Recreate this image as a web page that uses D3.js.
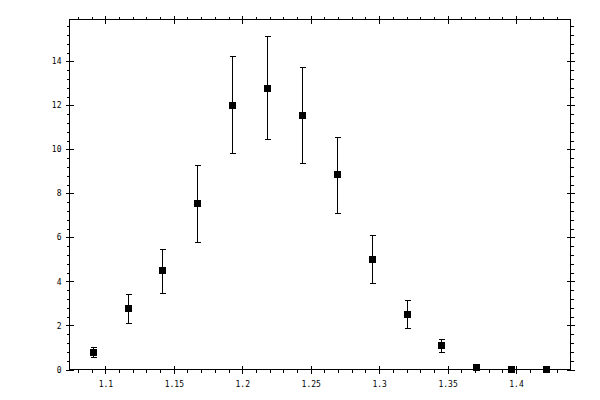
<!DOCTYPE html>
<html>
<head>
<meta charset="utf-8">
<script src="https://cdn.jsdelivr.net/npm/d3@7"></script>
<style>
  body { margin: 0; background: #fff; }
  svg text { font-family: "DejaVu Sans Mono", monospace; font-size: 8px; fill: #000; }
</style>
</head>
<body>
<div id="chart"></div>
<script>
// bin centres and measured values
const binX = [1.0908, 1.1163, 1.1417, 1.1672, 1.1927, 1.2181, 1.2436,
              1.2691, 1.2946, 1.3200, 1.3455, 1.3710, 1.3964, 1.4219];
const valY = [0.78, 2.78, 4.51, 7.55, 12.01, 12.78, 11.55,
              8.87, 5.01, 2.51, 1.10, 0.13, 0.01, 0.01];
const errLo = [0.55, 2.10, 3.46, 5.78, 9.83, 10.48, 9.37,
               7.10, 3.92, 1.87, 0.78, 0.13, 0.01, 0.01];
const errHi = [1.01, 3.42, 5.49, 9.31, 14.24, 15.15, 13.72,
               10.58, 6.10, 3.14, 1.37, 0.13, 0.01, 0.01];

const xMajor = [1.1, 1.15, 1.2, 1.25, 1.3, 1.35, 1.4];
const xMinor = [1.08, 1.09, 1.11, 1.12, 1.13, 1.14, 1.16, 1.17, 1.18, 1.19,
                1.21, 1.22, 1.23, 1.24, 1.26, 1.27, 1.28, 1.29, 1.31, 1.32,
                1.33, 1.34, 1.36, 1.37, 1.38, 1.39, 1.41, 1.42, 1.43];
const yMajor = [0, 2, 4, 6, 8, 10, 12, 14];
const yMinor = [0.4, 0.8, 1.2, 1.6, 2.4, 2.8, 3.2, 3.6, 4.4, 4.8, 5.2, 5.6,
                6.4, 6.8, 7.2, 7.6, 8.4, 8.8, 9.2, 9.6, 10.4, 10.8, 11.2, 11.6,
                12.4, 12.8, 13.2, 13.6, 14.4, 14.8, 15.2, 15.6];

const width = 600;
const height = 400;
const margin = { top: 19.5, right: 29.5, bottom: 30.5, left: 69.5 };

const svg = d3.select("#chart")
  .append("svg")
  .attr("width", width)
  .attr("height", height)
  .attr("shape-rendering", "crispEdges");

const x = d3.scaleLinear()
  .domain([1.0738, 1.4398])
  .range([margin.left, width - margin.right]);

const y = d3.scaleLinear()
  .domain([0, 15.9])
  .range([height - margin.bottom, margin.top]);

const fmt = d3.format("~g");

// draw one side: major ticks cross the frame line, minor ticks stick out
function side(axisFn, scale, major, minor, transform, labels, sign) {
  const gMin = svg.append("g").attr("transform", transform)
    .call(axisFn(scale).tickValues(minor).tickSize(3).tickFormat(""));
  gMin.select(".domain").remove();

  const g = svg.append("g").attr("transform", transform)
    .call(axisFn(scale).tickValues(major).tickSize(4)
      .tickFormat(labels ? fmt : ""));
  g.select(".domain").remove();
  return g;
}

const H = height - margin.bottom;
const W = width - margin.right;

const gb = side(d3.axisBottom, x, xMajor, xMinor, `translate(0,${H})`, true);
gb.selectAll(".tick line").attr("y1", -4);
gb.selectAll(".tick text").attr("y", 12);

const gt = side(d3.axisTop, x, xMajor, xMinor, `translate(0,${margin.top})`, false);
gt.selectAll(".tick line").attr("y1", 4);

const gl = side(d3.axisLeft, y, yMajor, yMinor, `translate(${margin.left},0)`, true);
gl.selectAll(".tick line").attr("x1", 4);
gl.selectAll(".tick text").attr("x", -8);

const gr = side(d3.axisRight, y, yMajor, yMinor, `translate(${W},0)`, false);
gr.selectAll(".tick line").attr("x1", -4);

svg.selectAll(".tick line").attr("stroke", "#000");

// frame
svg.append("rect")
  .attr("x", margin.left)
  .attr("y", margin.top)
  .attr("width", W - margin.left)
  .attr("height", H - margin.top)
  .attr("fill", "none")
  .attr("stroke", "#000");

// error bars
const pts = binX.map((v, i) => ({ x: v, y: valY[i], lo: errLo[i], hi: errHi[i] }));
const eb = svg.append("g").attr("stroke", "#000").attr("stroke-width", 1);

eb.selectAll(".stem")
  .data(pts.filter((d) => d.hi - d.lo > 0.1))
  .join("path")
  .attr("fill", "none")
  .attr("d", (d) => {
    const cx = Math.round(x(d.x)) + 0.5;
    const t = Math.round(y(d.hi)) + 0.5;
    const b = Math.round(y(d.lo)) + 0.5;
    return `M${cx},${t}V${b}M${cx - 2.5},${t}H${cx + 3}M${cx - 2.5},${b}H${cx + 3}`;
  });

// markers
svg.append("g")
  .selectAll("rect")
  .data(pts)
  .join("rect")
  .attr("x", (d) => Math.round(x(d.x)) - 3)
  .attr("y", (d) => Math.round(y(d.y)) - 3)
  .attr("width", 7)
  .attr("height", 7)
  .attr("fill", "#000");
</script>
</body>
</html>
